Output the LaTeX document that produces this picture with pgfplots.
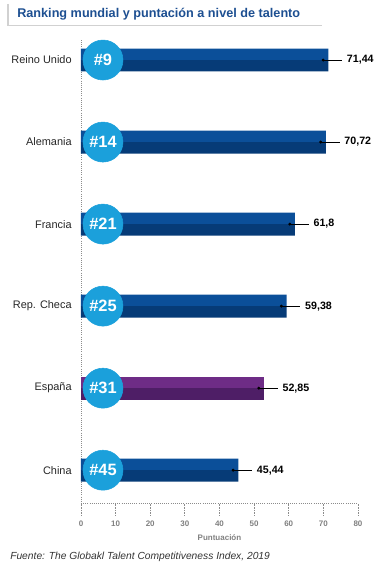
\documentclass[border=0pt]{standalone}
\usepackage{pgfplots}
\pgfplotsset{compat=1.18}
\usepackage{fontspec}
\setmainfont{Liberation Sans}
\definecolor{barA}{HTML}{0B4F99}
\definecolor{barB}{HTML}{063B77}
\definecolor{purA}{HTML}{6E2C86}
\definecolor{purB}{HTML}{4E1E66}
\definecolor{circ}{HTML}{1BA0DB}
\definecolor{titleblue}{HTML}{1D4F91}
\begin{document}
\begin{tikzpicture}[x=0.75pt,y=0.75pt]
\path[use as bounding box] (0,0) rectangle (380,569);
\draw[black!18, line width=1pt] (8,565) -- (8,543.5) -- (322,543.5);
\node[anchor=base west, font=\bfseries\fontsize{9.5}{11}\selectfont, text=titleblue, inner sep=0] at (17,551) {Ranking mundial y puntación a nivel de talento};
\node[anchor=base west, font=\itshape\fontsize{7.7}{9}\selectfont, inner sep=0, text=black!80] at (10,10) {Fuente: The Globakl Talent Competitiveness Index, 2019};
\begin{axis}[
  at={(60.75pt,49.5pt)}, anchor=south west, scale only axis,
  width=207.75pt, height=347.25pt,
  xmin=0, xmax=80, ymin=-0.244, ymax=5.40, y dir=reverse,
  clip=false,
  axis x line=bottom, axis y line=left,
  axis line style={-, black!45, densely dotted, line width=0.6pt},
  xtick={0,10,...,80},
  x tick style={black!45, densely dotted, line width=0.6pt},
  tick align=outside, major tick length=9pt,
  ytick={0,1,2,3,4,5},
  yticklabels={Reino Unido,Alemania,Francia,Rep. Checa,España,China},
  y tick style={draw=none},
  y tick label style={font=\fontsize{8.2}{10}\selectfont, text=black!85, anchor=east, xshift=5.5pt},
  x tick label style={font=\bfseries\fontsize{6}{7}\selectfont, text=black!50, yshift=-1pt},
  /pgf/number format/assume math mode=true,
  xlabel={Puntuación},
  xlabel style={font=\bfseries\fontsize{6}{7}\selectfont, text=black!50, yshift=1pt},
]
% two-tone bars
\addplot[xbar, bar width=8.6pt, bar shift=4.3pt, fill=barA, draw=none] coordinates {(71.44,0) (70.72,1) (61.8,2) (59.38,3) (45.44,5)};
\addplot[xbar, bar width=8.6pt, bar shift=-4.3pt, fill=barB, draw=none] coordinates {(71.44,0) (70.72,1) (61.8,2) (59.38,3) (45.44,5)};
\addplot[xbar, bar width=8.6pt, bar shift=4.3pt, fill=purA, draw=none] coordinates {(52.85,4)};
\addplot[xbar, bar width=8.6pt, bar shift=-4.3pt, fill=purB, draw=none] coordinates {(52.85,4)};
% leader lines
\addplot[black, line width=0.6pt, unbounded coords=jump] table {
x y
69.94 0
75.44 0
nan nan
69.22 1
74.72 1
nan nan
60.3 2
65.8 2
nan nan
57.88 3
63.38 3
nan nan
51.35 4
56.85 4
nan nan
43.94 5
49.44 5
};
\addplot[only marks, mark=*, mark size=0.9pt, black] coordinates {(69.94,0) (69.22,1) (60.3,2) (57.88,3) (51.35,4) (43.94,5)};
% value labels
\addplot[draw=none, mark=none, nodes near coords, point meta=explicit symbolic,
  nodes near coords style={anchor=west, inner sep=0pt, font=\bfseries\fontsize{8}{9}\selectfont, text=black}]
  table[meta=l] {
x y l
76.74 0 71,44
76.02 1 70,72
67.1 2 61,8
64.68 3 59,38
58.15 4 52,85
50.74 5 45,44
};
% rank circles
\addplot[only marks, mark=*, mark size=15pt, color=circ, mark options={fill=circ, draw=circ},
  nodes near coords, point meta=explicit symbolic,
  nodes near coords style={anchor=center, inner sep=0pt, text=white, font=\bfseries\fontsize{12.3}{13}\selectfont}]
  table[meta=l] {
x y l
6.35 0 \#9
6.35 1 \#14
6.35 2 \#21
6.35 3 \#25
6.35 4 \#31
6.35 5 \#45
};
\end{axis}
\end{tikzpicture}
\end{document}
